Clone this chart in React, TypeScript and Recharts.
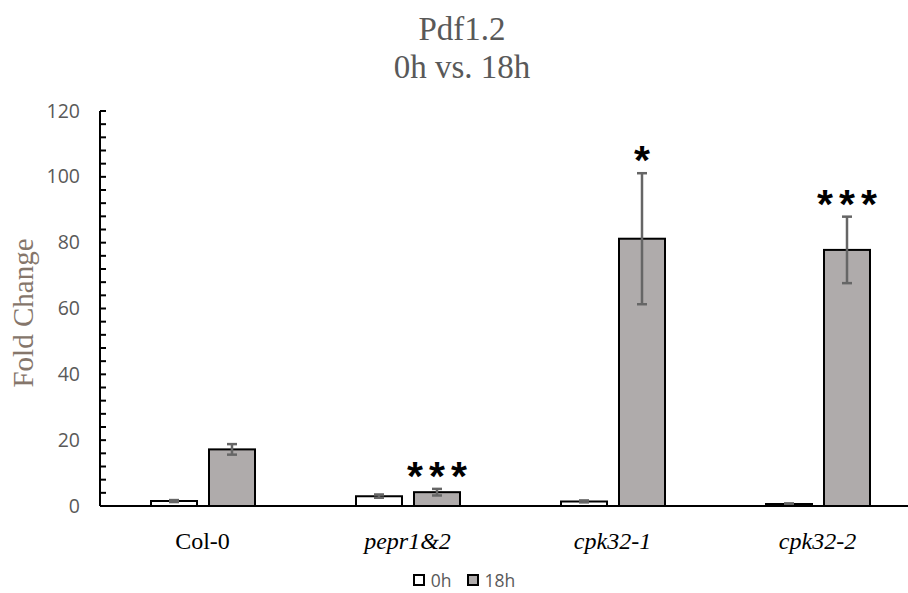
import React from 'react';
import { BarChart, Bar, XAxis, YAxis, ErrorBar, Legend, Label } from 'recharts';

const categories = ['Col-0', 'pepr1&2', 'cpk32-1', 'cpk32-2'];
const italicCategory = [false, true, true, true];
const values0h = [1.5, 3.0, 1.4, 0.6];
const errors0h = [0.3, 0.5, 0.3, 0.2];
const values18h = [17.2, 4.2, 81.2, 77.8];
const errors18h = [1.6, 1.0, 19.9, 10.1];
const significance = ['', '***', '*', '***'];
const yTicks = [0, 4, 8, 12, 16, 20, 24, 28, 32, 36, 40, 44, 48, 52, 56, 60, 64, 68, 72, 76, 80, 84, 88, 92, 96, 100, 104, 108, 112, 116, 120];
const yMajorStep = 20;
const seriesNames = ['0h', '18h'];

const data = categories.map((c, i) => ({
  name: c,
  italic: italicCategory[i],
  h0: values0h[i],
  e0: errors0h[i],
  h18: values18h[i],
  e18: errors18h[i],
  sig: significance[i],
}));

const YTick = (props: any) => {
  const { x, y, payload } = props;
  const major = payload.value % yMajorStep === 0;
  return (
    <g>
      <line x1={x} x2={x + 6} y1={y} y2={y} stroke="#000" strokeWidth={2} />
      {major && (
        <text x={x - 20} y={y} dy={6.5} textAnchor="end" fill="#595959" fontFamily="'Open Sans', sans-serif" fontSize={19.5}>
          {payload.value}
        </text>
      )}
    </g>
  );
};

const XTick = (props: any) => {
  const { x, y, payload, index } = props;
  const it = italicCategory[index] ?? false;
  return (
    <text x={x} y={y} dy={43} textAnchor="middle" fill="#000" fontFamily="'Liberation Serif', 'Times New Roman', serif" fontSize={24} fontStyle={it ? 'italic' : 'normal'}>
      {payload.value}
    </text>
  );
};

const STAR_SPACING = 6;

const Bar18Shape = (props: any) => {
  const { x, y, width, height, payload } = props;
  const v = payload.h18;
  const pxPerUnit = v ? height / v : 0;
  const errTop = y - payload.e18 * pxPerUnit;
  return (
    <g>
      <rect x={x} y={y} width={width} height={height} fill="#AFABAB" stroke="#000" strokeWidth={2} />
      {payload.sig && (
        <text
          x={x + width / 2 + STAR_SPACING / 2}
          y={errTop + 1}
          textAnchor="middle"
          fill="#000"
          fontFamily="'Liberation Sans', Arial, sans-serif"
          fontWeight="bold"
          fontSize={41}
          letterSpacing={STAR_SPACING}
        >
          {payload.sig}
        </text>
      )}
    </g>
  );
};

const LegendContent = () => (
  <div style={{ display: 'flex', justifyContent: 'center', alignItems: 'center', fontFamily: "'Open Sans', sans-serif", fontSize: 17.5, color: '#595959', lineHeight: '22px' }}>
    {seriesNames.map((n, i) => (
      <div key={n} style={{ display: 'flex', alignItems: 'center', marginRight: i === 0 ? 15 : 0 }}>
        <span style={{ display: 'inline-block', width: 8, height: 8, border: '2px solid #000', background: i === 0 ? '#fff' : '#AFABAB', marginRight: 6 }} />
        <span>{n}</span>
      </div>
    ))}
  </div>
);

export default function App() {
  return (
    <div style={{ position: 'fixed', left: 0, top: 0, width: 908, height: 593, overflow: 'hidden', background: '#fff' }}>
      <div style={{ position: 'absolute', left: 0, top: 10, width: 924, textAlign: 'center', fontFamily: "'Liberation Serif', 'Times New Roman', serif", fontSize: 33, color: '#595959', lineHeight: '38px' }}>
        <div>Pdf1.2</div>
        <div>0h vs. 18h</div>
      </div>
      <BarChart
        width={930}
        height={593}
        data={data}
        margin={{ top: 111, right: 10, bottom: 0, left: 0 }}
        barSize={46}
        barGap={12}
        style={{ position: 'absolute', left: 0, top: 0 }}
      >
        <XAxis
          dataKey="name"
          height={87}
          axisLine={{ stroke: '#000', strokeWidth: 2 }}
          tickLine={false}
          tickSize={0}
          tickMargin={0}
          tick={<XTick />}
          interval={0}
        />
        <YAxis
          width={100}
          domain={[0, 120]}
          ticks={yTicks}
          interval={0}
          axisLine={{ stroke: '#000', strokeWidth: 2 }}
          tickLine={false}
          tickSize={0}
          tickMargin={0}
          tick={<YTick />}
        >
          <Label
            content={() => (
              <text x={33} y={313} transform="rotate(-90 33 313)" textAnchor="middle" fill="#85766b" fontFamily="'Liberation Serif', 'Times New Roman', serif" fontSize={29}>
                Fold Change
              </text>
            )}
          />
        </YAxis>
        <Legend
          layout="horizontal"
          verticalAlign="middle"
          align="center"
          wrapperStyle={{ position: 'absolute', left: 0, top: 569, width: 928, height: 22 }}
          content={<LegendContent />}
        />
        <Bar dataKey="h0" name="0h" fill="#fff" stroke="#000" strokeWidth={2} isAnimationActive={false}>
          <ErrorBar dataKey="e0" width={5} stroke="#666" strokeWidth={2.5} />
        </Bar>
        <Bar dataKey="h18" name="18h" fill="#AFABAB" stroke="#000" strokeWidth={2} shape={<Bar18Shape />} isAnimationActive={false}>
          <ErrorBar dataKey="e18" width={5} stroke="#666" strokeWidth={2.5} />
        </Bar>
      </BarChart>
    </div>
  );
}
